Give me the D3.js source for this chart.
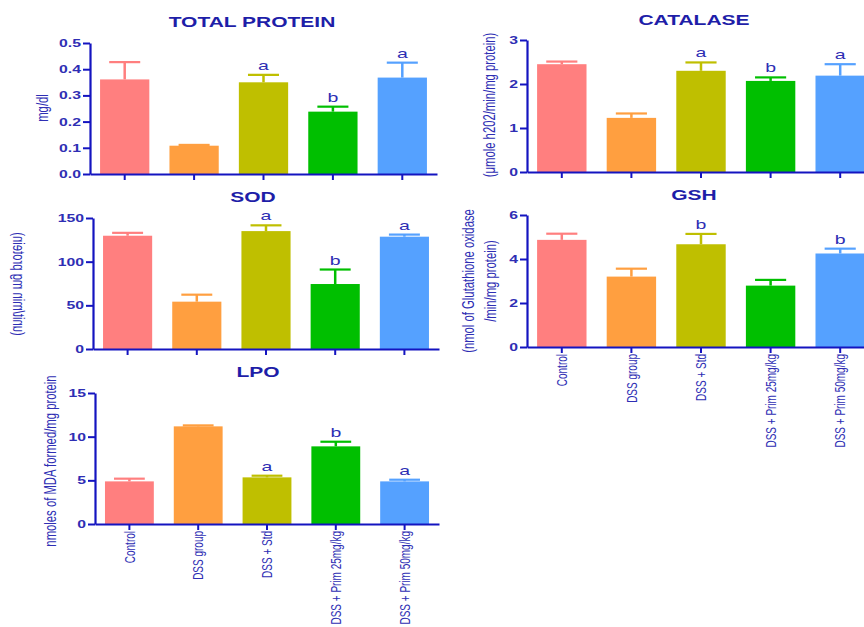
<!DOCTYPE html>
<html>
<head>
<meta charset="utf-8">
<script src="https://cdn.jsdelivr.net/npm/d3@7"></script>
<style>
  html, body { margin: 0; padding: 0; background: #fff; }
  svg { display: block; }
  text { font-family: "Liberation Sans", Arial, sans-serif; }
</style>
</head>
<body>
<svg id="chart" width="864" height="627"></svg>
<script>
// Groups shared by every panel
const categories = ["Control", "DSS group", "DSS + Std", "DSS + Prim 25mg/kg", "DSS + Prim 50mg/kg"];
const barColors = ["#ff7f7f", "#ff9f40", "#bfbf00", "#00bf00", "#55a1ff"];

// Total protein (mg/dl)
const proteinMean = [0.361, 0.108, 0.350, 0.238, 0.368];
const proteinSem  = [0.066, 0.003, 0.028, 0.019, 0.057];
const proteinSig  = ["", "", "a", "b", "a"];
const proteinTicks = [0, 0.1, 0.2, 0.3, 0.4, 0.5];

// Catalase
const catalaseMean = [2.45, 1.23, 2.30, 2.07, 2.19];
const catalaseSem  = [0.06, 0.10, 0.19, 0.08, 0.26];
const catalaseSig  = ["", "", "a", "b", "a"];
const catalaseTicks = [0, 1, 2, 3];

// SOD
const sodMean = [129.7, 54.2, 135.0, 74.4, 128.6];
const sodSem  = [3.3, 8.0, 6.6, 16.6, 2.4];
const sodSig  = ["", "", "a", "b", "a"];
const sodTicks = [0, 50, 100, 150];

// GSH
const gshMean = [4.87, 3.20, 4.67, 2.79, 4.25];
const gshSem  = [0.28, 0.36, 0.47, 0.26, 0.22];
const gshSig  = ["", "", "b", "", "b"];
const gshTicks = [0, 2, 4, 6];

// LPO
const lpoMean = [4.88, 11.18, 5.34, 8.89, 4.88];
const lpoSem  = [0.31, 0.11, 0.19, 0.53, 0.19];
const lpoSig  = ["", "", "a", "b", "a"];
const lpoTicks = [0, 5, 10, 15];

const AXIS = "#1414c0";
const TEXT = "#2e2eb4";
const TITLE = "#1e1ea8";
const SX = 1.5; // horizontal stretch of the lettering

const panels = [
  { title: "TOTAL PROTEIN", mean: proteinMean, sem: proteinSem, sig: proteinSig, ticks: proteinTicks,
    fmt: d3.format(".1f"), x0: 90, x1: 437, y0: 174, y1: 43, titleX: 252, titleY: 27,
    ylabel: ["mg/dl"], ylabelX: [42], ylabelY: 108, showCats: false },
  { title: "CATALASE", mean: catalaseMean, sem: catalaseSem, sig: catalaseSig, ticks: catalaseTicks,
    fmt: d3.format("d"), x0: 527, x1: 875, y0: 172, y1: 40, titleX: 694, titleY: 25,
    ylabel: ["(\u03bcmole h202/min/mg protein)"], ylabelX: [489], ylabelY: 105, showCats: false },
  { title: "SOD", mean: sodMean, sem: sodSem, sig: sodSig, ticks: sodTicks,
    fmt: d3.format("d"), x0: 93, x1: 439, y0: 349, y1: 218, titleX: 253, titleY: 202,
    ylabel: ["(unit/min mg protein)"], ylabelX: [19], ylabelY: 284, flipLabel: true, showCats: false },
  { title: "GSH", mean: gshMean, sem: gshSem, sig: gshSig, ticks: gshTicks,
    fmt: d3.format("d"), x0: 527, x1: 875, y0: 347, y1: 215, titleX: 694, titleY: 200,
    ylabel: ["(nmol of Glutathione oxidase", "/min/mg protein)"], ylabelX: [468, 490], ylabelY: 281, showCats: true },
  { title: "LPO", mean: lpoMean, sem: lpoSem, sig: lpoSig, ticks: lpoTicks,
    fmt: d3.format("d"), x0: 95, x1: 439, y0: 524, y1: 393, titleX: 258, titleY: 377,
    ylabel: ["nmoles of MDA formed/mg protein"], ylabelX: [50], ylabelY: 461, showCats: true }
];

const svg = d3.select("#chart");

panels.forEach(p => {
  const g = svg.append("g");
  const x = d3.scaleBand().domain(categories).range([p.x0, p.x1])
    .paddingInner(0.29).paddingOuter(0.145);
  const y = d3.scaleLinear().domain([p.ticks[0], p.ticks[p.ticks.length - 1]]).range([p.y0, p.y1]);
  const rows = categories.map((c, i) => ({ c, m: p.mean[i], e: p.sem[i], s: p.sig[i], col: barColors[i] }));

  // bars
  g.selectAll("rect.bar").data(rows).join("rect")
    .attr("class", "bar")
    .attr("x", d => x(d.c))
    .attr("width", x.bandwidth())
    .attr("y", d => y(d.m))
    .attr("height", d => y(0) - y(d.m))
    .attr("fill", d => d.col);

  // upper error bars
  const cap = x.bandwidth() * 0.63;
  g.selectAll("line.err").data(rows).join("line")
    .attr("class", "err")
    .attr("x1", d => x(d.c) + x.bandwidth() / 2)
    .attr("x2", d => x(d.c) + x.bandwidth() / 2)
    .attr("y1", d => y(d.m))
    .attr("y2", d => y(d.m + d.e))
    .attr("stroke", d => d.col).attr("stroke-width", 2.5);
  g.selectAll("line.cap").data(rows).join("line")
    .attr("class", "cap")
    .attr("x1", d => x(d.c) + x.bandwidth() / 2 - cap / 2)
    .attr("x2", d => x(d.c) + x.bandwidth() / 2 + cap / 2)
    .attr("y1", d => y(d.m + d.e))
    .attr("y2", d => y(d.m + d.e))
    .attr("stroke", d => d.col).attr("stroke-width", 2.2);

  // significance letters
  g.selectAll("text.sig").data(rows.filter(d => d.s)).join("text")
    .attr("class", "sig")
    .attr("transform", d => `translate(${x(d.c) + x.bandwidth() / 2},${y(d.m + d.e) - 5}) scale(${SX},1)`)
    .attr("text-anchor", "middle")
    .attr("font-size", 13)
    .attr("fill", TEXT)
    .text(d => d.s);

  // y axis
  const ya = g.append("g").attr("transform", `translate(${p.x0},0)`)
    .call(d3.axisLeft(y).tickValues(p.ticks).tickFormat(p.fmt).tickSize(7).tickSizeOuter(0));
  ya.select(".domain").attr("stroke", AXIS).attr("stroke-width", 2.2);
  ya.selectAll(".tick line").attr("stroke", AXIS).attr("stroke-width", 2);
  ya.selectAll(".tick text")
    .attr("x", null).attr("dy", "0.34em")
    .attr("transform", `translate(-9,0) scale(${SX},1)`)
    .attr("font-family", "'Liberation Sans', Arial, sans-serif")
    .attr("font-weight", "bold").attr("font-size", 10.5)
    .attr("fill", TEXT);

  // x axis
  const xa = g.append("g").attr("transform", `translate(0,${p.y0})`)
    .call(d3.axisBottom(x).tickSize(6).tickSizeOuter(0));
  xa.select(".domain").attr("stroke", AXIS).attr("stroke-width", 2.2);
  xa.selectAll(".tick line").attr("stroke", AXIS).attr("stroke-width", 2);
  if (p.showCats) {
    xa.selectAll(".tick text")
      .attr("y", null).attr("dy", "0.35em")
      .attr("transform", `translate(0,7) scale(${SX},1) rotate(-90)`)
      .attr("text-anchor", "end")
      .attr("font-family", "'Liberation Sans', Arial, sans-serif")
      .attr("font-size", 10)
      .attr("fill", TEXT);
  } else {
    xa.selectAll(".tick text").remove();
  }

  // title
  g.append("text")
    .attr("transform", `translate(${p.titleX},${p.titleY}) scale(${SX},1)`)
    .attr("text-anchor", "middle")
    .attr("font-weight", "bold").attr("font-size", 14)
    .attr("fill", TITLE)
    .text(p.title);

  // y label
  p.ylabel.forEach((line, i) => {
    const flip = p.flipLabel ? " scale(1,-1)" : "";
    g.append("text")
      .attr("transform", `translate(${p.ylabelX[i]},${p.ylabelY}) scale(${SX},1) rotate(-90)${flip}`)
      .attr("text-anchor", "middle")
      .attr("dy", "0.35em")
      .attr("font-size", 11.3)
      .attr("fill", TEXT)
      .text(line);
  });
});
</script>
</body>
</html>
